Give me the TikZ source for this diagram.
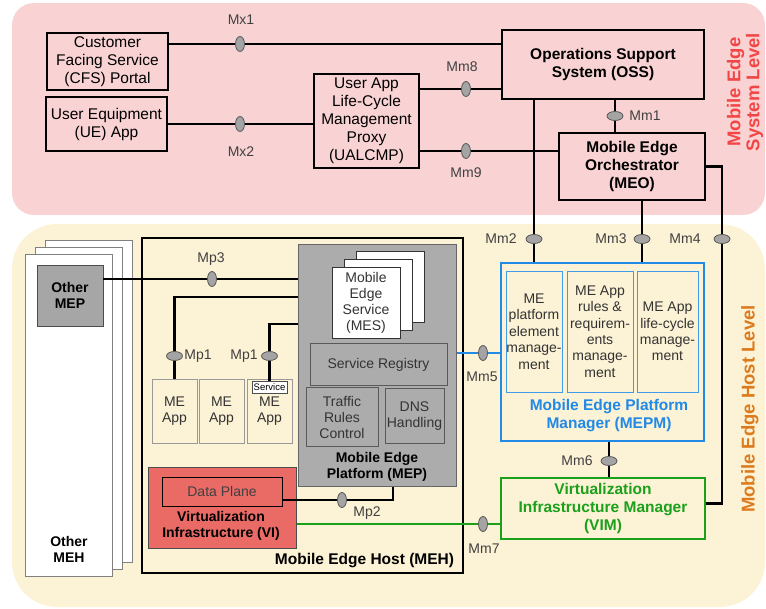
\documentclass[tikz,border=0pt]{standalone}
\usepackage{fontspec}
\setmainfont{Liberation Sans}
\usetikzlibrary{shapes.geometric}

\definecolor{syspink}{HTML}{F9D3D4}
\definecolor{hostcream}{HTML}{FCF2D5}
\definecolor{mepgray}{HTML}{ACACAC}
\definecolor{othergray}{HTML}{A6A6A6}
\definecolor{vired}{HTML}{EA6B66}
\definecolor{mepmblue}{HTML}{2189E6}
\definecolor{vimgreen}{HTML}{1BA01B}
\definecolor{syslabel}{HTML}{F24646}
\definecolor{hostlabel}{HTML}{DD7A1C}
\definecolor{ifgray}{HTML}{A4A4A4}

\begin{document}
\begin{tikzpicture}[x=1pt,y=-1pt,
    conn/.style={line width=2.1pt},
    ifv/.style={ellipse,draw=black!65,fill=ifgray,line width=0.8pt,minimum width=9pt,minimum height=15pt,inner sep=0pt},
    ifh/.style={ellipse,draw=black!65,fill=ifgray,line width=0.8pt,minimum width=16pt,minimum height=9pt,inner sep=0pt},
    ifl/.style={text=black!75,font=\fontsize{14}{16}\selectfont}]

      \useasboundingbox (0,0) rectangle (766,609);

      \fill[syspink,rounded corners=22pt] (12,3) rectangle (765,215);
      \fill[hostcream,rounded corners=45pt] (12,224) rectangle (765,607);

      \node[rotate=90,align=center,text=syslabel,font=\bfseries\fontsize{18.5}{19}\selectfont] (syslvl) at (745,92) {Mobile Edge\\System Level};
      \node[rotate=90,text=hostlabel,font=\bfseries\fontsize{18.5}{19}\selectfont] (hostlvl) at (750,409) {Mobile Edge Host Level};

      \begin{scope}[every node/.style={draw,line width=2.2pt,align=center,inner sep=0pt,font=\fontsize{15.5}{18}\selectfont}]
        \node[minimum width=121pt,minimum height=57pt] (cfs) at (107.5,61.5) {Customer\\Facing Service\\(CFS) Portal};
        \node[minimum width=121pt,minimum height=54pt] (ue) at (106.5,124) {User Equipment\\(UE) App};
        \node[minimum width=105pt,minimum height=94pt] (ualcmp) at (366.5,121) {User App\\Life-Cycle\\Management\\Proxy\\(UALCMP)};
        \node[minimum width=202pt,minimum height=69pt,font=\bfseries\fontsize{15.5}{18}\selectfont] (oss) at (603,64.5) {Operations Support\\System (OSS)};
        \node[minimum width=146pt,minimum height=67pt,font=\bfseries\fontsize{15.5}{18}\selectfont] (meo) at (632,166.5) {Mobile Edge\\Orchestrator\\(MEO)};
      \end{scope}

      \begin{scope}[every node/.style={draw=gray,fill=white,line width=0.8pt,minimum width=87pt,minimum height=322pt,inner sep=0pt}]
        \node (meh3) at (88.5,401) {};
        \node (meh2) at (78.5,408) {};
        \node (meh1) at (68.5,415) {};
      \end{scope}
      \node[align=center,font=\bfseries\fontsize{14}{16}\selectfont] (otherlbl) at (69,549) {Other\\MEH};
      \node[draw=black!70,fill=othergray,line width=0.8pt,minimum width=66pt,minimum height=61pt,align=center,font=\bfseries\fontsize{14}{16}\selectfont] (omep) at (70,295.5) {Other\\MEP};

      \node[draw,line width=2.6pt,minimum width=321pt,minimum height=335pt] (meh) at (302.5,405.5) {};
      \node[font=\bfseries\fontsize{15.5}{18}\selectfont] (mehlbl) at (364.5,561) {Mobile Edge Host (MEH)};

      \node[draw=black!60,fill=mepgray,line width=1pt,minimum width=158pt,minimum height=241pt] (mep) at (377,365.5) {};
      \node[align=center,font=\bfseries\fontsize{14}{16}\selectfont] (meplbl) at (377,467) {Mobile Edge\\Platform (MEP)};

      \begin{scope}[every node/.style={draw=black!80,fill=white,line width=0.8pt,minimum width=68pt,minimum height=71pt,inner sep=0pt,align=center,text=black!80,font=\fontsize{14}{16}\selectfont}]
        \node (mes3) at (390,286.5) {};
        \node (mes2) at (378,294.5) {};
        \node (mes) at (366,302.5) {Mobile\\Edge\\Service\\(MES)};
      \end{scope}

      \begin{scope}[every node/.style={draw=black!65,fill=mepgray,line width=1pt,inner sep=0pt,align=center,text=black!80,font=\fontsize{14}{16}\selectfont}]
        \node[minimum width=137pt,minimum height=42pt] (reg) at (378.5,365) {Service Registry};
        \node[minimum width=72pt,minimum height=59pt] (trc) at (342,417.5) {Traffic\\Rules\\Control};
        \node[minimum width=59pt,minimum height=55pt] (dns) at (414.5,416.5) {DNS\\Handling};
      \end{scope}

      \begin{scope}[every node/.style={draw=gray!80,fill=hostcream,line width=0.8pt,minimum width=45pt,minimum height=64pt,inner sep=0pt,align=center,text=black!80,font=\fontsize{14}{16}\selectfont}]
        \node (app1) at (174.5,411) {ME\\App};
        \node (app2) at (221.5,411) {ME\\App};
        \node (app3) at (269.5,411) {ME\\App};
      \end{scope}
      \node[draw=black!70,fill=white,line width=0.6pt,minimum width=35pt,minimum height=12pt,inner sep=0pt,font=\fontsize{9.5}{10}\selectfont] (svc) at (269.5,387) {Service};

      \node[draw=black!70,fill=vired,line width=1pt,minimum width=148pt,minimum height=80pt] (vi) at (222,508) {};
      \node[draw,fill=vired,line width=0.8pt,minimum width=120pt,minimum height=29pt,inner sep=0pt,text=black!75,font=\fontsize{14}{16}\selectfont] (dp) at (222,491.5) {Data Plane};
      \node[align=center,font=\bfseries\fontsize{14}{16}\selectfont] (vilbl) at (221,526) {Virtualization\\Infrastructure (VI)};

      \node[draw=mepmblue,line width=2.6pt,minimum width=203pt,minimum height=178pt] (mepm) at (602.5,352) {};
      \begin{scope}[every node/.style={draw=mepmblue!85,line width=0.8pt,minimum height=121pt,inner sep=0pt,align=center,text=black!80,font=\fontsize{14}{16.4}\selectfont}]
        \node[minimum width=56pt] (pem) at (534,331.5) {ME\\platform\\element\\manage-\\ment};
        \node[minimum width=66pt] (rrm) at (600,331.5) {ME App\\rules \&\\requirem-\\ents\\manage-\\ment};
        \node[minimum width=61pt] (lcm) at (667.5,331.5) {ME App\\life-cycle\\manage-\\ment};
      \end{scope}
      \node[align=center,text=mepmblue,font=\bfseries\fontsize{15.5}{17.3}\selectfont] (mepmlbl) at (609,415.5) {Mobile Edge Platform\\Manager (MEPM)};

      \node[draw=vimgreen,line width=2.6pt,minimum width=204pt,minimum height=61pt,inner sep=0pt,align=center,text=vimgreen,font=\bfseries\fontsize{15.5}{18}\selectfont] (vim) at (603,508.5) {Virtualization\\Infrastructure Manager\\(VIM)};

      \coordinate (Mx1) at (240,44);
      \coordinate (Mx2) at (240,124);
      \coordinate (Mm8) at (466,89);
      \coordinate (Mm9) at (466,151);
      \coordinate (Mm1) at (615,116);
      \coordinate (Mm2) at (534,239);
      \coordinate (Mm3) at (642,239);
      \coordinate (Mm4) at (722,239);
      \coordinate (Mm5) at (483,353);
      \coordinate (Mm6) at (609,461);
      \coordinate (Mm7) at (483,524);
      \coordinate (Mp3) at (212,279);
      \coordinate (Mp1a) at (174.5,356);
      \coordinate (Mp1b) at (269.5,356);
      \coordinate (Mp2) at (342,500);
      \coordinate (mp1aTop) at (174.5,297);
      \coordinate (mp1bTop) at (269.5,324);
      \coordinate (mp2End) at (393,500);

      \begin{scope}[conn]
        \draw (cfs.east |- Mx1) -- (oss.west |- Mx1);
        \draw (ue.east |- Mx2) -- (ualcmp.west |- Mx2);
        \draw (ualcmp.east |- Mm8) -- (oss.west |- Mm8);
        \draw (ualcmp.east |- Mm9) -- (meo.west |- Mm9);
        \draw (oss.south -| Mm1) -- (meo.north -| Mm1);
        \draw (oss.south -| Mm2) -- (mepm.north -| Mm2);
        \draw (meo.south -| Mm3) -- (mepm.north -| Mm3);
        \draw (meo.east) -| (Mm4) |- ([yshift=5pt]vim.east);
        \draw (mepm.south -| Mm6) -- (vim.north -| Mm6);
        \draw (omep.east |- Mp3) -- (mep.west |- Mp3);
        \draw (mep.west |- mp1aTop) -- (mp1aTop) -- (app1.north);
        \draw (mep.west |- mp1bTop) -- (mp1bTop) -- (svc.north);
        \draw (dp.east |- mp2End) -- (mp2End) -- (mep.south -| mp2End);
        \draw[mepmblue] (mep.east |- Mm5) -- (mepm.west |- Mm5);
        \draw[vimgreen] (vi.east |- Mm7) -- (vim.west |- Mm7);
      \end{scope}

      \node[ifv] (ifMx1) at (Mx1) {};
      \node[ifv] (ifMx2) at (Mx2) {};
      \node[ifv] (ifMm8) at (Mm8) {};
      \node[ifv] (ifMm9) at (Mm9) {};
      \node[ifh] (ifMm1) at (Mm1) {};
      \node[ifh] (ifMm2) at (Mm2) {};
      \node[ifh] (ifMm3) at (Mm3) {};
      \node[ifh] (ifMm4) at (Mm4) {};
      \node[ifv] (ifMm5) at (Mm5) {};
      \node[ifh] (ifMm6) at (Mm6) {};
      \node[ifv] (ifMm7) at (Mm7) {};
      \node[ifv] (ifMp3) at (Mp3) {};
      \node[ifh] (ifMp1a) at (Mp1a) {};
      \node[ifh] (ifMp1b) at (Mp1b) {};
      \node[ifv] (ifMp2) at (Mp2) {};

      \begin{scope}[every node/.style={ifl}]
        \node (lMx1) at (241,20) {Mx1};
        \node (lMx2) at (241,152) {Mx2};
        \node (lMm8) at (462,67) {Mm8};
        \node (lMm9) at (466,173) {Mm9};
        \node (lMm1) at (645,116) {Mm1};
        \node (lMm2) at (501,239) {Mm2};
        \node (lMm3) at (611,239) {Mm3};
        \node (lMm4) at (685,239) {Mm4};
        \node (lMm5) at (482,377) {Mm5};
        \node (lMm6) at (577,461) {Mm6};
        \node (lMm7) at (484,549) {Mm7};
        \node (lMp3) at (211,259) {Mp3};
        \node (lMp1a) at (198,356) {Mp1};
        \node (lMp1b) at (244,356) {Mp1};
        \node (lMp2) at (367,513) {Mp2};
      \end{scope}

\end{tikzpicture}
\end{document}
